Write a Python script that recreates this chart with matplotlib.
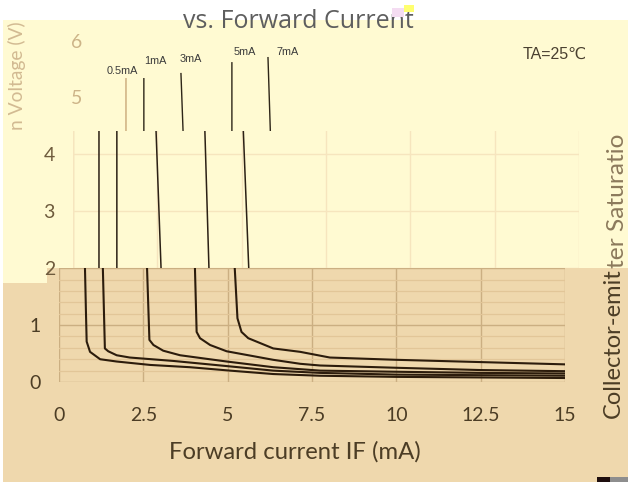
import matplotlib
matplotlib.use('Agg')
import matplotlib.pyplot as plt
from matplotlib.patches import Rectangle
from matplotlib.ticker import MultipleLocator

# ---------------- data ----------------
series_labels = ['0.5mA', '1mA', '3mA', '5mA', '7mA']

if_05 = [0.77, 0.77, 0.80, 0.82, 0.92, 1.22, 1.71, 2.70, 3.88, 5.07, 6.35, 7.74, 10.0, 12.5, 15.0]
vce_05 = [5.33, 2.00, 1.20, 0.71, 0.53, 0.40, 0.36, 0.30, 0.26, 0.20, 0.14, 0.11, 0.09, 0.08, 0.07]

if_1 = [1.30, 1.30, 1.36, 1.46, 1.71, 2.10, 3.39, 4.97, 6.35, 7.74, 10.0, 12.5, 15.0]
vce_1 = [5.33, 2.00, 0.59, 0.54, 0.47, 0.43, 0.37, 0.28, 0.20, 0.16, 0.13, 0.12, 0.11]

if_3 = [2.40, 2.61, 2.68, 2.80, 3.09, 3.59, 4.97, 6.35, 7.74, 10.0, 12.5, 15.0]
vce_3 = [5.42, 2.00, 0.74, 0.65, 0.55, 0.47, 0.36, 0.26, 0.20, 0.18, 0.16, 0.15]

if_5 = [3.91, 3.91, 4.03, 4.08, 4.18, 4.48, 4.97, 6.35, 7.15, 7.74, 10.0, 12.5, 15.0]
vce_5 = [5.61, 4.40, 2.00, 0.88, 0.77, 0.65, 0.54, 0.39, 0.32, 0.29, 0.25, 0.21, 0.19]

if_7 = [4.98, 5.05, 5.21, 5.29, 5.41, 5.61, 6.35, 7.15, 8.03, 10.0, 12.5, 15.0]
vce_7 = [5.70, 4.40, 2.00, 1.12, 0.88, 0.77, 0.59, 0.53, 0.43, 0.39, 0.35, 0.31]

curves = [(if_05, vce_05), (if_1, vce_1), (if_3, vce_3), (if_5, vce_5), (if_7, vce_7)]

x_ticks = [0, 2.5, 5, 7.5, 10, 12.5, 15]
x_tick_labels = ['0', '2.5', '5', '7.5', '10', '12.5', '15']

title_text = 'vs. Forward Current'
x_label = 'Forward current IF (mA)'
# the y label is split across the three shifted bands of the picture
y_label_parts = ['Collector-emit', 'ter Saturatio', 'n Voltage (V)']
temp_note = 'TA=25\u2103'

# ---------------- figure ----------------
W, H = 628, 482
fig = plt.figure(figsize=(W / 100, H / 100), dpi=100)
fig.patch.set_facecolor('white')

YELLOW = '#FFFAD2'
TAN = '#EFD8AD'
FONT = ['Lato', 'DejaVu Sans']
TICK_FS = 14

def fx(px):
    return px / W

def fy(py):
    return 1 - py / H

def frect(x0, y0, x1, y1, color, z=-10):
    fig.patches.append(Rectangle((fx(x0), fy(y1)), fx(x1) - fx(x0), fy(y0) - fy(y1),
                                 transform=fig.transFigure, facecolor=color,
                                 edgecolor='none', zorder=z))

# background bands
frect(3, 20, W, 268, YELLOW)
frect(3, 268, W, H, TAN)
frect(3, 268, 47, 283, YELLOW)
# small artefacts
frect(597, 477, 610, H, '#1E0E0E')
frect(610, 477, W, H, '#8E8E8E')

XS = 506 / 15.0      # px per mA
YS = 56.9            # px per volt
Y0 = 382             # pixel of 0 V

def make_axes(left_px, ylo, yhi):
    top = Y0 - yhi * YS
    bot = Y0 - ylo * YS
    ax = fig.add_axes([fx(left_px), fy(bot), XS * 15 / W, (bot - top) / H])
    ax.set_xlim(0, 15)
    ax.set_ylim(ylo, yhi)
    ax.patch.set_alpha(0)
    for s in ax.spines.values():
        s.set_visible(False)
    ax.tick_params(which='both', length=0)
    return ax

# ---- bottom copy ----
axb = make_axes(59, 0.0, 2.0)
axb.yaxis.set_minor_locator(MultipleLocator(0.2))
axb.set_xticks(x_ticks)
axb.set_xticklabels(x_tick_labels)
axb.set_yticks([0, 1, 2])
axb.set_yticklabels(['0', '1', ''])
axb.grid(which='minor', axis='y', color='#E2C698', lw=0.9)
axb.grid(which='major', axis='both', color='#CBAF82', lw=1.0)
axb.set_axisbelow(True)
axb.tick_params(axis='x', pad=18, labelsize=TICK_FS, labelcolor='#4C3D25')
axb.tick_params(axis='y', pad=13, labelsize=TICK_FS, labelcolor='#4C3D25')
for lab in axb.get_xticklabels() + axb.get_yticklabels():
    lab.set_family(FONT)
for xs, ys in curves:
    axb.plot(xs, ys, color='#2C1C0C', lw=1.5, solid_joinstyle='round')

# ---- middle copy ----
axm = make_axes(73, 2.0, 4.42)
axm.set_xticks(x_ticks)
axm.set_xticklabels([])
axm.set_yticks([2, 3, 4])
axm.grid(True, color='#F6E5BE', lw=1.0)
axm.set_axisbelow(True)
axm.axvline(0, color='#EAD6AC', lw=1.0, zorder=0.5)
axm.tick_params(axis='y', pad=13, labelsize=TICK_FS, labelcolor='#6E5B3D')
for lab in axm.get_yticklabels():
    lab.set_family(FONT)
for xs, ys in curves:
    axm.plot(xs, ys, color='#2B2015', lw=1.1)

# ---- top copy ----
axt = make_axes(100, 4.42, 6.35)
axt.set_xticks([])
axt.set_yticks([5, 6])
axt.tick_params(axis='y', pad=13, labelsize=TICK_FS, labelcolor='#CDB488')
for lab in axt.get_yticklabels():
    lab.set_family(FONT)
top_colors = ['#C9A878', '#2D2518', '#2D2518', '#2D2518', '#2D2518']
for (xs, ys), c in zip(curves, top_colors):
    axt.plot(xs, ys, color=c, lw=1.0)

label_pos = [(0.65, 5.47), (1.63, 5.64), (2.70, 5.68), (4.30, 5.80), (5.57, 5.80)]
for name, (lx, ly) in zip(series_labels, label_pos):
    axt.text(lx, ly, name, ha='center', va='center', fontsize=7.8, color='#3A3A3A',
             family=['Liberation Sans', 'DejaVu Sans'], clip_on=False)
axt.text(13.49, 5.75, temp_note, ha='center', va='center', fontsize=11.5, color='#4A4030',
         family=['Liberation Sans', 'DejaVu Sans'], clip_on=False)

# ---- texts ----
fig.text(fx(183), fy(28), title_text, ha='left', va='baseline', fontsize=18,
         color='#5E5E5E', family=['Open Sans', 'DejaVu Sans'])
# small glitch marks next to the title
fig.patches.append(Rectangle((fx(392), fy(17)), fx(12), 9 / H, transform=fig.transFigure,
                             facecolor='#F4DCF2', edgecolor='none', zorder=5))
fig.patches.append(Rectangle((fx(404), fy(12)), fx(10), 7 / H, transform=fig.transFigure,
                             facecolor='#FFFF70', edgecolor='none', zorder=5))

fig.text(fx(295), fy(452), x_label, ha='center', va='center', fontsize=17.2,
         color='#4C3D25', family=FONT)

# y label fragments, one per band: (x centre, bottom px, length px, colour)
ylab_specs = [
    (613, 418, 149, '#4C3D25'),
    (617, 268, 134, '#8C7A5C'),
    (17, 130, 109, '#D2BA92'),
]
renderer = fig.canvas.get_renderer()
for part, (xc, ybot, length, col) in zip(y_label_parts, ylab_specs):
    tt = fig.text(fx(xc), fy(ybot), part, rotation=90, rotation_mode='anchor',
                  ha='left', va='center', fontsize=16.6, color=col, family=FONT)
    ext = tt.get_window_extent(renderer)
    tt.set_fontsize(16.6 * length / ext.height)

fig.savefig('out.png', dpi=100, facecolor=fig.get_facecolor())
